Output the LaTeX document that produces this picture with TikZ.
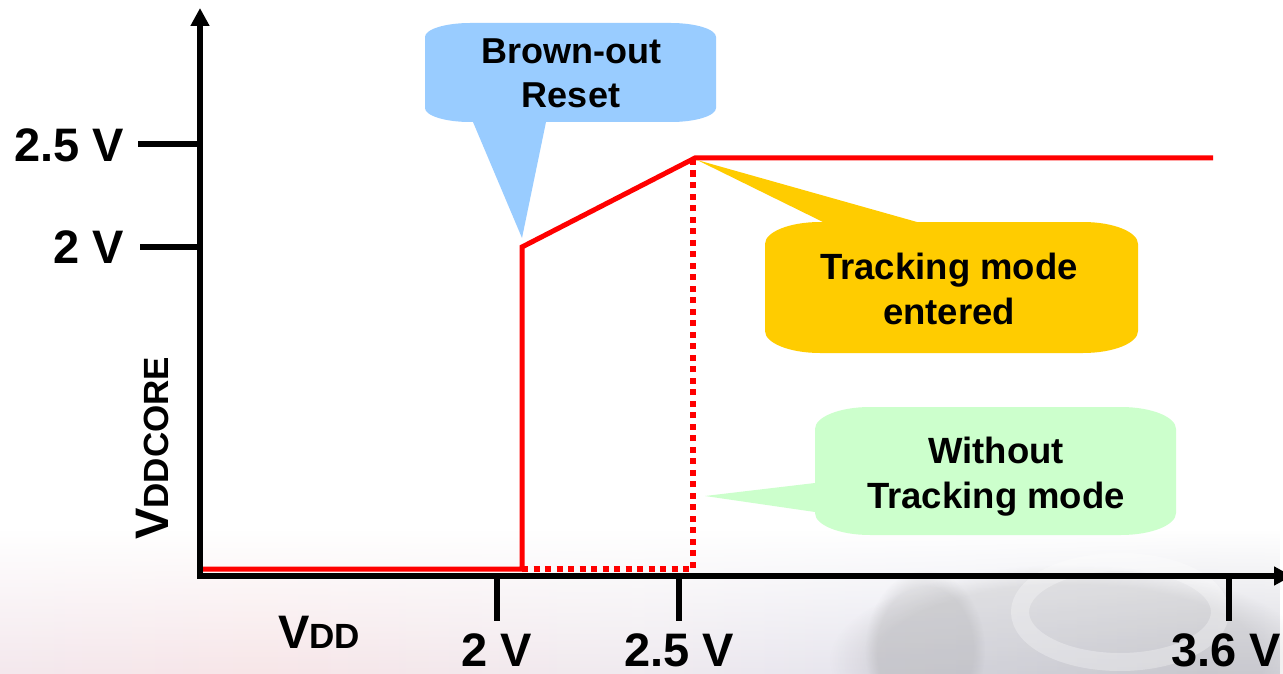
\documentclass[tikz,border=0pt]{standalone}
\usepackage{fontspec}
\setmainfont{Liberation Sans}
\usetikzlibrary{arrows.meta,fadings}

% soft tinted floor band along the bottom of the slide
\pgfdeclarehorizontalshading{floorband}{100bp}{%
  rgb(0bp)=(0.86,0.86,0.94);
  rgb(15bp)=(0.94,0.92,0.95);
  rgb(35bp)=(0.97,0.90,0.91);
  rgb(50bp)=(0.94,0.92,0.94);
  rgb(62bp)=(0.89,0.89,0.93);
  rgb(72bp)=(0.84,0.84,0.87);
  rgb(86bp)=(0.87,0.87,0.90);
  rgb(100bp)=(0.89,0.89,0.93)}

\definecolor{bubbleblue}{HTML}{99CCFF}
\definecolor{bubblegold}{HTML}{FFCC00}
\definecolor{bubblegreen}{HTML}{CCFFCC}
\definecolor{trace}{HTML}{FF0000}

\begin{document}
\begin{tikzpicture}[x=1pt,y=-1pt,
  axis/.style={line width=6pt,black},
  tick/.style={line width=6pt,black},
  curve/.style={line width=5pt,trace,line join=miter},
  dotline/.style={line width=6pt,trace,dash pattern=on 6pt off 5.5pt},
  lab/.style={font=\fontsize{47}{50}\selectfont\bfseries,inner sep=0pt},
  note/.style={font=\fontsize{36}{44}\selectfont\bfseries,inner sep=0pt}]

\useasboundingbox (0,0) rectangle (1283,674);
\clip (0,0) rectangle (1283,674);
\fill[white] (0,0) rectangle (1283,674);

% background floor
\shade[shading=floorband,path fading=north] (0,530) rectangle (1283,674);
\fill[black!40,opacity=0.22,path fading=circle with fuzzy edge 20 percent]
  (1070,660) ellipse[x radius=240,y radius=95];
\fill[black!45,opacity=0.18,path fading=circle with fuzzy edge 20 percent]
  (925,650) ellipse[x radius=60,y radius=80];
\draw[white,line width=18pt,opacity=0.3] (1120,612) ellipse[x radius=100,y radius=50];
\draw[white,line width=14pt,opacity=0.3] (845,674) arc[start angle=180,end angle=70,radius=70];

% key points of the plot
\coordinate (o)    at (200,576);
\coordinate (ytop) at (200,8);
\coordinate (xend) at (1292,576);
\coordinate (p0)   at (203,569);
\coordinate (p1)   at (522,569);
\coordinate (p2)   at (522,247);
\coordinate (p3)   at (695,158);
\coordinate (p4)   at (1213,158);
\coordinate (d1)   at (693,569);
\coordinate (d2)   at (693,160);

% axes
\draw[axis,-{Triangle[width=18pt,length=18pt]}] (o) -- (ytop);
\draw[axis,-{Triangle[width=18pt,length=18pt]}] ([xshift=-3pt]o) -- (xend);

% ticks
\coordinate (ty25a) at (138,144); \coordinate (ty25b) at (200,144);
\coordinate (ty2a)  at (140,247); \coordinate (ty2b)  at (200,247);
\coordinate (tx2a)  at (497,576); \coordinate (tx2b)  at (497,621);
\coordinate (tx25a) at (679,576); \coordinate (tx25b) at (679,621);
\coordinate (tx36a) at (1229,576); \coordinate (tx36b) at (1229,621);
\draw[tick] (ty25a) -- (ty25b);
\draw[tick] (ty2a) -- (ty2b);
\draw[tick] (tx2a) -- (tx2b);
\draw[tick] (tx25a) -- (tx25b);
\draw[tick] (tx36a) -- (tx36b);

% tick labels
\node[lab,anchor=base east] (ly25) at (124,162) {2.5 V};
\node[lab,anchor=base east] (ly2)  at (124,263) {2 V};
\node[lab,anchor=base] (lx2)  at (497,666) {2 V};
\node[lab,anchor=base] (lx25) at (679,666) {2.5 V};
\node[lab,anchor=base] (lx36) at (1226,666) {3.6 V};

% axis names
\node[lab,anchor=base west] (vdd) at (278,648) {V{\fontsize{35}{40}\selectfont DD}};
\node[lab,anchor=base west,rotate=90] (vcore) at (168,540) {V{\fontsize{35}{40}\selectfont DDCORE}};

% supply curve
\draw[dotline] (p1) -- (d1) -- (d2);
\draw[curve] (p0) -- (p1) -- (p2) -- (p3) -- (p4);

% callout: brown-out reset
\coordinate (bortip) at (522,238);
\fill[bubbleblue] (470,23) -- (671,23) .. controls (695.8,23) and (716,29.3) .. (716,37)
  -- (716,108) .. controls (716,115.7) and (695.8,122) .. (671,122)
  -- (546,122) -- (bortip) -- (473,122) -- (470,122)
  .. controls (445.2,122) and (425,115.7) .. (425,108)
  -- (425,37) .. controls (425,29.3) and (445.2,23) .. (470,23) -- cycle;
\node[note,anchor=base] (bor) at (571,64)
  {\begin{tabular}[t]{@{}c@{}}Brown-out\\Reset\end{tabular}};

% callout: tracking mode entered
\coordinate (tmtip) at (697,160);
\fill[bubblegold] (820,222) -- (823,222) -- (tmtip) -- (917,222) -- (1083,222)
  .. controls (1113.4,222) and (1138,231.9) .. (1138,244)
  -- (1138,331) .. controls (1138,343.1) and (1113.4,353) .. (1083,353)
  -- (820,353) .. controls (789.6,353) and (765,343.1) .. (765,331)
  -- (765,244) .. controls (765,231.9) and (789.6,222) .. (820,222) -- cycle;
\node[note,anchor=base,font=\fontsize{36.5}{45}\selectfont\bfseries] (tme) at (949,279)
  {\begin{tabular}[t]{@{}c@{}}Tracking mode\\entered\end{tabular}};

% callout: without tracking mode
\coordinate (wtmtip) at (705,496);
\fill[bubblegreen] (870,407) -- (1121,407) .. controls (1151.4,407) and (1176,416.9) .. (1176,429)
  -- (1176,513) .. controls (1176,525.1) and (1151.4,535) .. (1121,535)
  -- (870,535) .. controls (839.6,535) and (815,525.1) .. (815,513)
  -- (815,512) -- (wtmtip) -- (815,483)
  -- (815,429) .. controls (815,416.9) and (839.6,407) .. (870,407) -- cycle;
\node[note,anchor=base,font=\fontsize{36.5}{45}\selectfont\bfseries] (wtm) at (996,463)
  {\begin{tabular}[t]{@{}c@{}}Without\\Tracking mode\end{tabular}};
\end{tikzpicture}
\end{document}
